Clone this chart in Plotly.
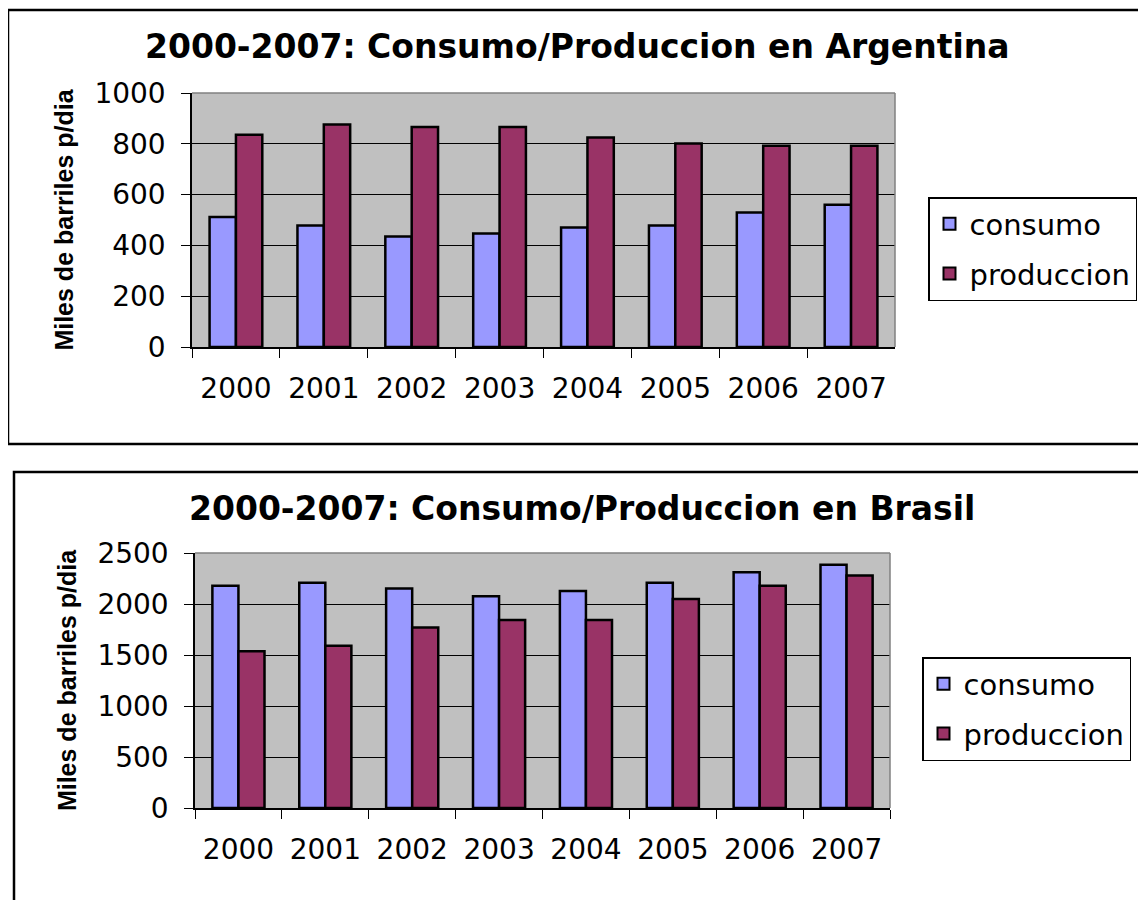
import plotly.graph_objects as go

# Data (miles de barriles por dia)
years = ["2000", "2001", "2002", "2003", "2004", "2005", "2006", "2007"]
arg_consumo = [512, 478, 435, 447, 470, 478, 530, 560]
arg_produccion = [836, 876, 866, 866, 825, 801, 792, 792]
bra_consumo = [2178, 2208, 2153, 2075, 2127, 2208, 2312, 2386]
bra_produccion = [1536, 1591, 1769, 1844, 1844, 2049, 2178, 2279]

# page body has an 8px margin, so the figure starts at (8, 8)
OFF = 8
W, H = 1146 - OFF, 900 - OFF
C_CONS = "#9999FF"
C_PROD = "#993366"
FONT = "DejaVu Sans, Arial, sans-serif"
FONT_B = "Liberation Sans, Arial, sans-serif"


def px(x):
    return (x - OFF) / W


def py(y):
    # page pixel from top -> paper fraction from bottom
    return (H - (y - OFF)) / H


def bar(x, y, name, color, xa, ya, leg):
    return go.Bar(x=x, y=y, name=name, legendgroup=name + leg,
                  marker=dict(color=color, line=dict(color="black", width=2.5)),
                  xaxis=xa, yaxis=ya, legend=leg)


fig = go.Figure()
fig.add_trace(bar(years, arg_consumo, "consumo", C_CONS, "x", "y", "legend"))
fig.add_trace(bar(years, arg_produccion, "produccion", C_PROD, "x", "y", "legend"))
fig.add_trace(bar(years, bra_consumo, "consumo", C_CONS, "x2", "y2", "legend2"))
fig.add_trace(bar(years, bra_produccion, "produccion", C_PROD, "x2", "y2", "legend2"))

xcommon = dict(type="category", tickson="boundaries", ticks="outside", ticklen=9, tickcolor="black",
               showline=True, linecolor="black", linewidth=1.5, showgrid=False, automargin=False,
               ticklabelstandoff=16, tickfont=dict(family=FONT, size=28, color="black"))
ycommon = dict(ticks="outside", ticklen=9, tickcolor="black", showline=True, linecolor="black", linewidth=1.5,
               showgrid=True, gridcolor="black", gridwidth=1.2, zeroline=False, automargin=False,
               ticklabelstandoff=10, tickfont=dict(family=FONT, size=28, color="black"),
               title=dict(text="Miles de barriles p/dia", font=dict(family=FONT_B, size=25, color="black", weight="bold"),
                          standoff=14))

legcommon = dict(xanchor="left", yanchor="top", bordercolor="black", borderwidth=1.5, bgcolor="white",
                 font=dict(family=FONT, size=29, color="black"), tracegroupgap=9, itemsizing="constant")

fig.update_layout(
    width=W, height=H,
    margin=dict(l=0, r=0, t=0, b=0, autoexpand=False),
    paper_bgcolor="white",
    plot_bgcolor="#C0C0C0",
    barmode="group",
    bargap=0.4,
    bargroupgap=0,
    showlegend=True,
    xaxis=dict(domain=[px(192), px(895)], anchor="y", **xcommon),
    yaxis=dict(domain=[py(347), py(93)], anchor="x", range=[0, 1000], dtick=200, **ycommon),
    xaxis2=dict(domain=[px(195), px(890)], anchor="y2", **xcommon),
    yaxis2=dict(domain=[py(808), py(553)], anchor="x2", range=[0, 2500], dtick=500, **ycommon),
    legend=dict(x=px(928), y=py(197), **legcommon),
    legend2=dict(x=px(922), y=py(657), **legcommon),
    annotations=[
        dict(text="<b>2000-2007: Consumo/Produccion en Argentina</b>", x=px(577), y=py(47), xref="paper", yref="paper",
             xanchor="center", yanchor="middle", showarrow=False, font=dict(family=FONT, size=33, color="black")),
        dict(text="<b>2000-2007: Consumo/Produccion en Brasil</b>", x=px(582), y=py(508), xref="paper", yref="paper",
             xanchor="center", yanchor="middle", showarrow=False, font=dict(family=FONT, size=33, color="black")),
    ],
    shapes=[
        # outer chart borders
        dict(type="rect", xref="paper", yref="paper", x0=px(8), x1=px(1152), y0=py(444), y1=py(10),
             line=dict(color="black", width=2.5)),
        dict(type="rect", xref="paper", yref="paper", x0=px(14), x1=px(1152), y0=py(906), y1=py(472),
             line=dict(color="black", width=2.5)),
        # light frame on top/right of plot areas
        dict(type="line", xref="paper", yref="paper", x0=px(192), x1=px(895), y0=py(93), y1=py(93),
             line=dict(color="#808080", width=1.5)),
        dict(type="line", xref="paper", yref="paper", x0=px(895), x1=px(895), y0=py(93), y1=py(347),
             line=dict(color="#808080", width=1.5)),
        dict(type="line", xref="paper", yref="paper", x0=px(195), x1=px(890), y0=py(553), y1=py(553),
             line=dict(color="#808080", width=1.5)),
        dict(type="line", xref="paper", yref="paper", x0=px(890), x1=px(890), y0=py(553), y1=py(808),
             line=dict(color="#808080", width=1.5)),
    ],
)

fig.write_html("out.html")
